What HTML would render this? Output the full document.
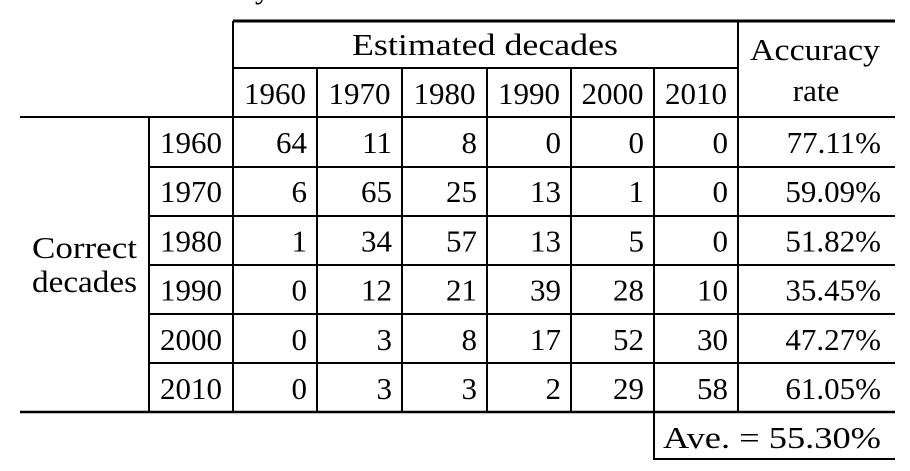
<!DOCTYPE html>
<html><head><meta charset="utf-8"><style>
html,body{margin:0;padding:0;background:#fff;}
svg{display:block;}
text{font-family:"Liberation Serif","DejaVu Serif",serif;font-size:31px;fill:#000;}
</style></head><body>
<svg id="t" width="910" height="471" viewBox="0 0 910 471">
<text x="255" y="-2">y</text>
<g id="lines" stroke="#000" stroke-width="2">
<line x1="233" y1="21" x2="895" y2="21" stroke-width="3"/>
<line x1="233" y1="68" x2="738" y2="68"/>
<line x1="20" y1="117" x2="895" y2="117"/>
<line x1="149" y1="167" x2="895" y2="167"/>
<line x1="149" y1="216" x2="895" y2="216"/>
<line x1="149" y1="265" x2="895" y2="265"/>
<line x1="149" y1="314" x2="895" y2="314"/>
<line x1="149" y1="363" x2="895" y2="363"/>
<line x1="20" y1="412" x2="895" y2="412" stroke-width="2.5"/>
<line x1="233" y1="21" x2="233" y2="412"/>
<line x1="738" y1="21" x2="738" y2="412"/>
<line x1="149" y1="117" x2="149" y2="412"/>
<line x1="317" y1="68" x2="317" y2="412"/>
<line x1="402" y1="68" x2="402" y2="412"/>
<line x1="487" y1="68" x2="487" y2="412"/>
<line x1="571" y1="68" x2="571" y2="412"/>
<line x1="654" y1="68" x2="654" y2="412"/>
<line x1="654" y1="412" x2="654" y2="460"/>
<line x1="654" y1="459" x2="895" y2="459"/>
</g>
<text x="352" y="55" textLength="266" lengthAdjust="spacingAndGlyphs">Estimated decades</text>
<text x="750" y="60" textLength="130" lengthAdjust="spacingAndGlyphs">Accuracy</text>
<text x="816" y="101" text-anchor="middle">rate</text>
<text x="32" y="258" textLength="105" lengthAdjust="spacingAndGlyphs">Correct</text>
<text x="32" y="292" textLength="105" lengthAdjust="spacingAndGlyphs">decades</text>
<text x="663" y="448" textLength="218" lengthAdjust="spacingAndGlyphs">Ave. = 55.30%</text>
<g id="cells"></g>
</svg>
<script>
const decades = ["1960","1970","1980","1990","2000","2010"];
const row1960 = [64,11,8,0,0,0];
const row1970 = [6,65,25,13,1,0];
const row1980 = [1,34,57,13,5,0];
const row1990 = [0,12,21,39,28,10];
const row2000 = [0,3,8,17,52,30];
const row2010 = [0,3,3,2,29,58];
const accuracy = ["77.11%","59.09%","51.82%","35.45%","47.27%","61.05%"];
const rows = [row1960,row1970,row1980,row1990,row2000,row2010];
const colEdges=[233,317,402,487,571,654,738];
const rowTop=117, rowH=49.2;
const g=document.getElementById('cells');
const NS="http://www.w3.org/2000/svg";
function txt(x,y,s,anchor){const t=document.createElementNS(NS,'text');t.setAttribute('x',x);t.setAttribute('y',y);t.setAttribute('text-anchor',anchor);t.textContent=s;g.appendChild(t);return t;}
decades.forEach((d,i)=>{
  const t=txt((colEdges[i]+colEdges[i+1])/2,104,d,'middle');
  
  
});
rows.forEach((r,ri)=>{
  const y=rowTop+rowH*ri+36;
  const l=txt(191,y,decades[ri],'middle');
  
  
  r.forEach((v,ci)=>{
    const c=txt(colEdges[ci+1]-10,y,String(v),'end');
    
    
  });
  const a=txt(881,y,accuracy[ri],'end');
  
  
});
</script>
</body></html>
